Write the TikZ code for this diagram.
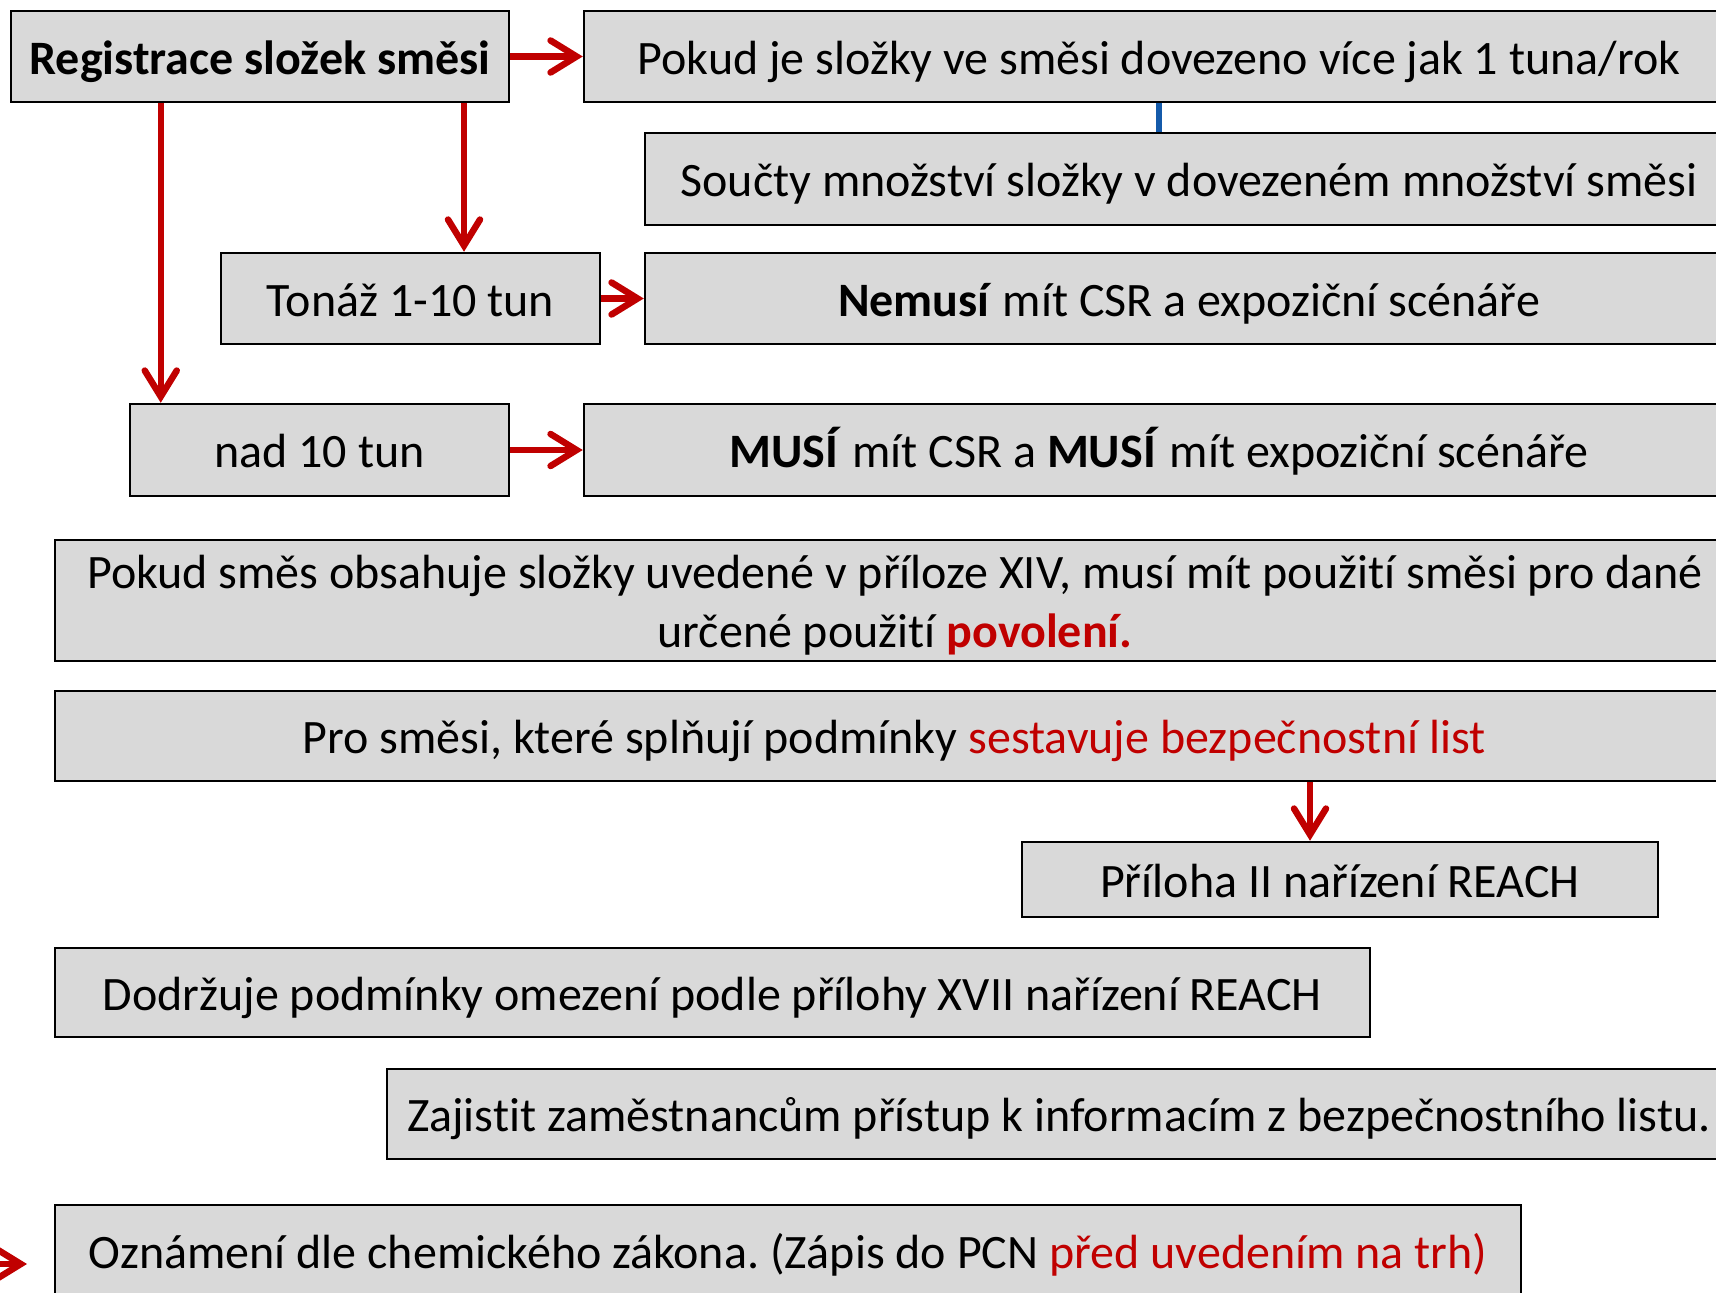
\documentclass[tikz,border=0pt]{standalone}
\usepackage{fontspec}
\setmainfont{Carlito}[Ligatures=NoCommon]
\usetikzlibrary{arrows.meta}
\usetikzlibrary{positioning}
\definecolor{arrowred}{RGB}{192,0,0}
\definecolor{boxgray}{RGB}{217,217,217}
\definecolor{linkblue}{RGB}{20,90,170}
\frenchspacing

\begin{document}
\begin{tikzpicture}[x=1pt,y=-1pt,
  every node/.style={draw,line width=2.5pt,fill=boxgray,rectangle,inner sep=0pt,
    font=\fontsize{48}{59}\selectfont,align=center,text height=45pt,text depth=10pt},
  redarrow/.style={draw=arrowred,line width=6.5pt,
    -{Straight Barb[length=26pt,width=32pt,line cap=round,line join=miter]}},
  bluelink/.style={draw=linkblue,line width=6pt}]
\clip (0,0) rectangle (1716,1293);

\node[minimum width=498pt,minimum height=91pt] (reg) at (260,56.5) {\textbf{Registrace složek směsi}};
\node[minimum width=1150pt,minimum height=91pt] (tuna) at (1159,56.5) {Pokud je složky ve směsi dovezeno více jak 1 tuna/rok};
\node[minimum width=1088pt,minimum height=92pt] (soucty) at (1189,179) {Součty množství složky v dovezeném množství směsi};
\node[minimum width=379pt,minimum height=91pt] (tonaz) at (410.5,298.5) {Tonáž 1-10 tun};
\node[minimum width=1088pt,minimum height=91pt] (nemusi) at (1189,298.5) {\textbf{Nemusí} mít CSR a expoziční scénáře};
\node[minimum width=379pt,minimum height=92pt] (nad) at (319.5,450) {nad 10 tun};
\node[minimum width=1150pt,minimum height=92pt] (musi) at (1159,450) {\textbf{MUSÍ} mít CSR a \textbf{MUSÍ} mít expoziční scénáře};
\node[minimum width=1680pt,minimum height=121pt,text height=104pt] (xiv) at (895,600.5) {Pokud směs obsahuje složky uvedené v příloze XIV, musí mít použití směsi pro dané\\určené použití \textcolor{arrowred}{\textbf{povolení.}}};
\node[minimum width=1678pt,minimum height=90pt] (bl) at (894,736) {Pro směsi, které splňují podmínky \textcolor{arrowred}{sestavuje bezpečnostní list}};
\node[minimum width=636pt,minimum height=75pt] (ii) at (1340,879.5) {Příloha II nařízení REACH};
\node[minimum width=1315pt,minimum height=89pt] (xvii) at (712.5,992.5) {Dodržuje podmínky omezení podle přílohy XVII nařízení REACH};
\node[minimum width=1344pt,minimum height=90pt] (zam) at (1059,1114) {Zajistit zaměstnancům přístup k informacím z bezpečnostního listu.};
\node[minimum width=1466pt,minimum height=91pt] (pcn) at (788,1250.5) {Oznámení dle chemického zákona. (Zápis do PCN \textcolor{arrowred}{před uvedením na trh)}};

\coordinate (offpage) at (-60,1264);
\coordinate (pcnin) at (27,1264);

\draw[redarrow] (reg.east)--(tuna.west);
\draw[redarrow] ([xshift=53.5pt]tonaz.north |- reg.south)--([xshift=53.5pt]tonaz.north);
\draw[redarrow] ([xshift=32pt]nad.north west |- reg.south)--([xshift=32pt]nad.north west);
\draw[redarrow] (tonaz.east)--(nemusi.west);
\draw[redarrow] (nad.east)--(musi.west);
\draw[redarrow] ([xshift=-30pt]ii.north |- bl.south)--([xshift=-30pt]ii.north);
\draw[redarrow] (offpage)--(pcnin);
\draw[bluelink] (tuna.south)--(tuna.south |- soucty.north);
\end{tikzpicture}
\end{document}
